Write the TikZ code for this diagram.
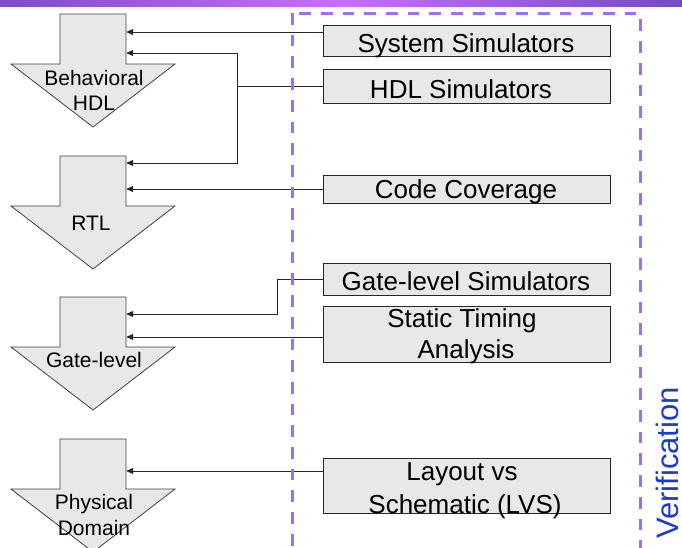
\documentclass[tikz,border=0pt]{standalone}
\usepackage{fontspec}
\setmainfont{Liberation Sans}
\usetikzlibrary{arrows.meta,calc}
\definecolor{boxfill}{HTML}{E8E8E8}
\definecolor{dashpurple}{RGB}{160,110,245}
\definecolor{verblue}{RGB}{25,60,205}
\definecolor{barL}{RGB}{125,75,205}
\definecolor{barM}{RGB}{200,110,255}
\definecolor{barR}{RGB}{115,75,195}
\newcommand\blkarrow[2]{%
  \draw[blockarr] (60,#2) -- (126,#2) -- (126,#2+50) -- (175,#2+50) -- (93,#2+113) -- (11,#2+50) -- (60,#2+50) -- cycle;
  \node[shaftbox] (#1) at (93,#2+25) {};
}
\begin{document}
\begin{tikzpicture}[x=1pt,y=-1pt,
  toolbox/.style={draw=black!85,line width=1pt,fill=boxfill,minimum width=287pt,inner sep=0pt,rectangle},
  shaftbox/.style={minimum width=66pt,minimum height=50pt,inner sep=0pt},
  blockarr/.style={draw=black!75,line width=0.8pt,fill=boxfill},
  boxtxt/.style={font=\fontsize{26}{31}\selectfont,anchor=base,inner sep=0pt},
  arrtxt/.style={font=\fontsize{21}{25}\selectfont,anchor=base,inner sep=0pt},
  conn/.style={draw=black!85,line width=0.9pt},
  connarr/.style={conn,-{Triangle[length=7pt,width=6pt]}},
  dashbox/.style={draw=dashpurple,line width=3pt,dash pattern=on 11.7pt off 10pt}
]
\path[use as bounding box] (0,0) rectangle (682,547);
\clip (0,0) rectangle (682,547);
\fill[white] (0,0) rectangle (682,547);
\shade[left color=barL,right color=barR,middle color=barM] (0,0) rectangle (682,6.5);

% block arrows
\blkarrow{a1}{14}
\blkarrow{a2}{156}
\blkarrow{a3}{297}
\blkarrow{a4}{439}
\node[arrtxt] (t1a) at (94,85) {Behavioral};
\node[arrtxt] (t1b) at (94,110) {HDL};
\node[arrtxt] (t2) at (91,230) {RTL};
\node[arrtxt] (t3) at (94,367) {Gate-level};
\node[arrtxt] (t4a) at (94,509) {Physical};
\node[arrtxt] (t4b) at (94,535) {Domain};

% tool boxes
\node[toolbox,minimum height=31pt] (sys) at (466.5,40.5) {};
\node[toolbox,minimum height=34pt] (hdl) at (466.5,86) {};
\node[toolbox,minimum height=28pt] (cc) at (466.5,189) {};
\node[toolbox,minimum height=32pt] (gls) at (466.5,279) {};
\node[toolbox,minimum height=56pt] (sta) at (466.5,334) {};
\node[toolbox,minimum height=55pt] (lvs) at (466.5,485.5) {};

% connectors
\draw[connarr] ([yshift=8.5pt]sys.west) -- ([yshift=8.5pt]sys.west -| a1.east);
\coordinate (hj) at ($(hdl.west)+(-85,0)$);
\draw[conn] (hdl.west) -- (hj);
\draw[connarr] (hj) |- ([yshift=-14pt]a1.east);
\draw[connarr] (hj) |- ([yshift=18pt]a2.east);
\draw[connarr] (cc.west) -- (cc.west -| a2.east);
\coordinate (gj) at ($(gls.west)+(-45,0)$);
\draw[connarr] (gls.west) -- (gj) |- ([yshift=8pt]a3.east);
\draw[connarr] ([yshift=-3pt]sta.west) -- ([yshift=-3pt]sta.west -| a3.east);
\draw[connarr] ([yshift=14.5pt]lvs.west) -- ([yshift=14.5pt]lvs.west -| a4.east);

% verification region
\draw[dashbox] (292,13) rectangle (640,575);

% box texts
\node[boxtxt] (syst) at (466,52) {System Simulators};
\node[boxtxt] (hdlt) at (461,98) {HDL Simulators};
\node[boxtxt] (cct) at (466,198) {Code Coverage};
\node[boxtxt] (glst) at (466,290) {Gate-level Simulators};
\node[boxtxt] (stat1) at (462,327) {Static Timing};
\node[boxtxt] (stat2) at (466,358) {Analysis};
\node[boxtxt] (lvst1) at (462,480) {Layout vs};
\node[boxtxt] (lvst2) at (465,513) {Schematic (LVS)};

\node[rotate=90,anchor=base,text=verblue,font=\fontsize{31}{36}\selectfont,inner sep=0pt] (ver) at (678.5,463) {Verification};
\end{tikzpicture}
\end{document}
